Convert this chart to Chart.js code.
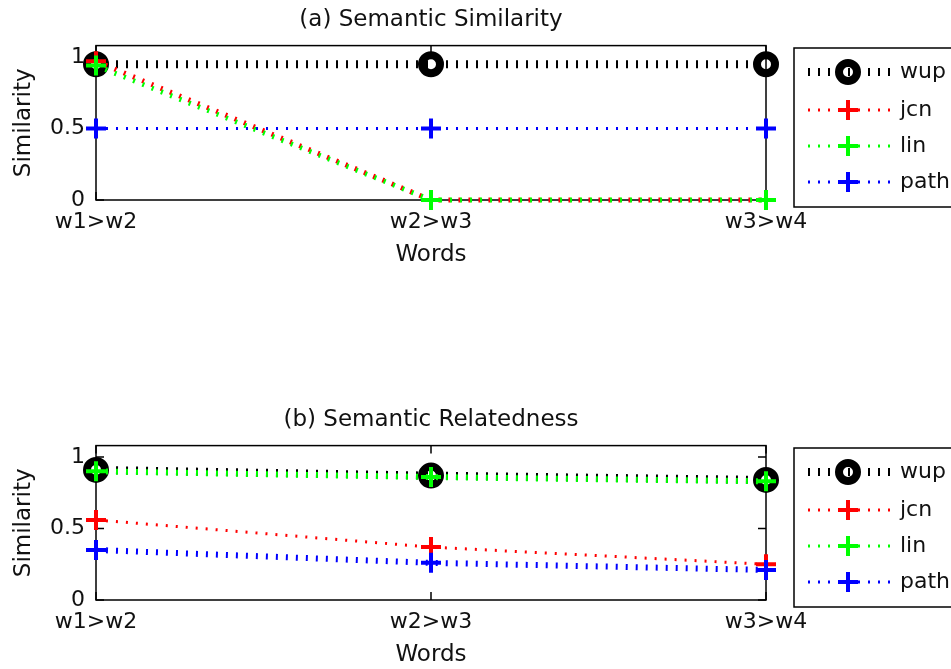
<!DOCTYPE html>
<html>
<head>
<meta charset="utf-8">
<script src="https://cdn.jsdelivr.net/npm/chart.js@4"></script>
<style>
  body { margin: 0; background: #fff; width: 951px; height: 669px; overflow: hidden; position: relative; }
  canvas { position: absolute; left: 0; }
</style>
</head>
<body>
<canvas id="simChart" width="951" height="269" style="top:0"></canvas>
<canvas id="relChart" width="951" height="269" style="top:400px"></canvas>
<script>
// ── data ──────────────────────────────────────
const words = ['w1>w2', 'w2>w3', 'w3>w4'];
const yTicks = [0, 0.5, 1];
const seriesNames = ['wup', 'jcn', 'lin', 'path'];

// (a) Semantic Similarity
const simWup = [0.95, 0.95, 0.95];
const simJcn = [0.97, 0, 0];
const simLin = [0.94, 0, 0];
const simPath = [0.5, 0.5, 0.5];

// (b) Semantic Relatedness
const relWup = [0.91, 0.87, 0.84];
const relJcn = [0.56, 0.37, 0.25];
const relLin = [0.9, 0.86, 0.83];
const relPath = [0.35, 0.26, 0.21];

// ── styles ────────────────────────────────────
const colors = ['#000000', '#ff0000', '#00ff00', '#0000ff'];
const markers = ['circle', 'cross', 'cross', 'cross'];
const FONT = 'DejaVu Sans';
Chart.defaults.font.family = FONT;
Chart.defaults.font.size = 22;
Chart.defaults.color = '#111';

// box around plot area + inward ticks (matlab style)
const framePlugin = {
  id: 'frame',
  beforeDatasetsDraw(chart) {
    const { ctx, chartArea: a, scales } = chart;
    ctx.save();
    ctx.strokeStyle = '#000';
    ctx.lineWidth = 1.5;
    ctx.beginPath();
    scales.x.ticks.forEach((t, i) => {
      const x = scales.x.getPixelForTick(i);
      ctx.moveTo(x, a.bottom); ctx.lineTo(x, a.bottom - 8);
      ctx.moveTo(x, a.top); ctx.lineTo(x, a.top + 8);
    });
    yTicks.forEach(v => {
      const y = scales.y.getPixelForValue(v);
      ctx.moveTo(a.left, y); ctx.lineTo(a.left + 8, y);
      ctx.moveTo(a.right, y); ctx.lineTo(a.right - 8, y);
    });
    ctx.stroke();
    ctx.strokeRect(a.left, a.top, a.right - a.left, a.bottom - a.top);
    ctx.restore();
  }
};

// legend box on the right: line sample + marker + name
const legendPlugin = {
  id: 'sideLegend',
  afterDraw(chart) {
    const ctx = chart.ctx;
    const rows = [72, 110, 146, 182];
    ctx.save();
    ctx.strokeStyle = '#000';
    ctx.lineWidth = 1.5;
    ctx.strokeRect(794, 48, 180, 159);
    chart.data.datasets.forEach((ds, i) => {
      const y = rows[i];
      ctx.strokeStyle = ds.borderColor;
      ctx.lineWidth = ds.legendWidth;
      ctx.setLineDash(ds.borderDash);
      ctx.beginPath();
      ctx.moveTo(808, y); ctx.lineTo(890, y);
      ctx.stroke();
      ctx.setLineDash([]);
      ctx.strokeStyle = ds.pointBorderColor;
      ctx.fillStyle = 'rgba(0,0,0,0)';
      ctx.lineWidth = ds.pointBorderWidth;
      Chart.helpers.drawPoint(ctx, { pointStyle: ds.pointStyle, radius: ds.pointRadius, rotation: 0, borderWidth: ds.pointBorderWidth }, 848, y);
      ctx.fillStyle = '#111';
      ctx.font = '22px ' + FONT;
      ctx.textBaseline = 'middle';
      ctx.fillText(ds.label, 900, y);
    });
    ctx.restore();
  }
};

function makeChart(id, title, series, lineWidths) {
  const datasets = series.map((vals, i) => ({
    label: seriesNames[i],
    data: vals,
    borderColor: colors[i],
    borderWidth: lineWidths[i],
    legendWidth: i === 0 ? 8 : 3,
    borderDash: [2, 8],
    pointStyle: markers[i],
    pointRadius: i === 0 ? 9 : 10,
    pointBorderWidth: i === 0 ? 8 : 4,
    pointBorderColor: colors[i],
    pointBackgroundColor: 'rgba(0,0,0,0)',
    pointHoverRadius: 0,
    tension: 0,
    clip: false,
    order: 4 - i,
  }));

  return new Chart(document.getElementById(id), {
    type: 'line',
    data: { labels: words, datasets },
    options: {
      responsive: false,
      animation: false,
      layout: { padding: { left: 0, right: 185, top: 0, bottom: 0 } },
      plugins: {
        legend: { display: false },
        tooltip: { enabled: false },
        title: {
          display: true, text: title, fullSize: false, color: '#111',
          font: { size: 23, weight: 'normal', lineHeight: 1.2 },
          padding: { top: 6, bottom: 12 },
        },
      },
      scales: {
        x: {
          type: 'category', offset: false,
          grid: { display: false, drawTicks: false }, border: { display: false },
          ticks: { padding: 9, maxRotation: 0, autoSkip: false, color: '#111' },
          title: { display: true, text: 'Words', color: '#111', font: { size: 23 }, padding: { top: 0, bottom: 0 } },
          afterFit(s) { s.height = 69; },
        },
        y: {
          min: 0, max: 1.08,
          grid: { display: false, drawTicks: false }, border: { display: false },
          afterBuildTicks(s) { s.ticks = yTicks.map(v => ({ value: v })); },
          ticks: { padding: 11, color: '#111', callback: v => String(v) },
          title: { display: true, text: 'Similarity', color: '#111', font: { size: 23 }, padding: { top: 10, bottom: 0 } },
          afterFit(s) { s.width = 96; },
        },
      },
    },
    plugins: [framePlugin, legendPlugin],
  });
}

makeChart('simChart', '(a) Semantic Similarity', [simWup, simJcn, simLin, simPath], [8, 5, 5, 3]);
makeChart('relChart', '(b) Semantic Relatedness', [relWup, relJcn, relLin, relPath], [8, 3, 6, 6]);
</script>
</body>
</html>
